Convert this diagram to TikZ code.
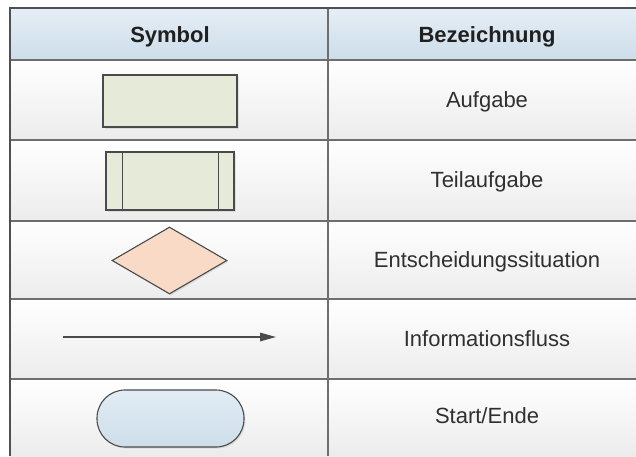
\documentclass[tikz,border=0pt]{standalone}
\usepackage{fontspec}
\setmainfont{Liberation Sans}
\usetikzlibrary{arrows.meta,shapes.geometric,shadows}

\definecolor{gridline}{HTML}{6E6E6E}
\definecolor{frameline}{HTML}{505050}
\definecolor{headtop}{HTML}{E6EEF5}
\definecolor{headbot}{HTML}{CCDDEA}
\definecolor{rowbot}{HTML}{ECECEC}
\definecolor{shapeline}{HTML}{4A4A4A}
\definecolor{taskfill}{HTML}{E6EAD9}
\definecolor{decfill}{HTML}{F9DAC6}
\definecolor{termtop}{HTML}{E2ECF4}
\definecolor{termbot}{HTML}{CDDEEA}
\definecolor{headtext}{HTML}{202020}
\definecolor{celltext}{HTML}{303030}

\tikzset{
  grid/.style={draw=gridline, line width=1.6pt},
  symshape/.style={draw=shapeline, line width=1.1pt, inner sep=0pt,
    drop shadow={opacity=0.18, shadow xshift=1.5pt, shadow yshift=-1.5pt}},
  taskbox/.style={symshape, rectangle, fill=taskfill},
  decbox/.style={symshape, diamond, fill=decfill},
  termbox/.style={symshape, rectangle, rounded corners=28pt,
    top color=termtop, bottom color=termbot},
  headlabel/.style={anchor=base, text=headtext,
    font=\fontsize{22}{26}\selectfont\bfseries},
  celllabel/.style={anchor=base, text=celltext,
    font=\fontsize{22}{26}\selectfont},
  flow/.style={draw=shapeline, line width=1.4pt,
    -{Triangle[length=16pt,width=8.5pt]}}
}

\begin{document}
\begin{tikzpicture}[x=1pt,y=-1pt]
  \useasboundingbox (0,0) rectangle (636,456);
  \fill[white] (0,0) rectangle (636,456);

  % header band and row bands
  \shade[top color=headtop, bottom color=headbot] (10,8) rectangle (636,60);
  \foreach \ya/\yb in {60/140,140/221,221/299,299/379,379/456}
    \shade[top color=white, bottom color=rowbot] (10,\ya) rectangle (636,\yb);

  % table rules
  \foreach \yy in {60,140,221,299,379}
    \draw[grid] (10,\yy) -- (636,\yy);
  \draw[grid] (328,8) -- (328,456);
  \draw[grid, draw=frameline] (10,456) -- (10,8) -- (636,8);

  % header
  \node[headlabel] (hsym) at (170,42) {Symbol};
  \node[headlabel] (hbez) at (487,42) {Bezeichnung};

  % Aufgabe
  \node[taskbox, minimum width=134pt, minimum height=52pt] (aufgabe) at (170,101) {};
  \node[celllabel] (laufgabe) at (487,107) {Aufgabe};

  % Teilaufgabe
  \node[taskbox, minimum width=128pt, minimum height=58pt] (teil) at (170,181) {};
  \draw[draw=shapeline, line width=1.1pt]
    ([xshift=17pt]teil.north west) -- ([xshift=17pt]teil.south west);
  \draw[draw=shapeline, line width=1.1pt]
    ([xshift=-16pt]teil.north east) -- ([xshift=-16pt]teil.south east);
  \node[celllabel] (lteil) at (487,187) {Teilaufgabe};

  % Entscheidungssituation
  \node[decbox, minimum width=115pt, minimum height=67pt] (entsch) at (169.5,260.5) {};
  \node[celllabel] (lentsch) at (487,267) {Entscheidungssituation};

  % Informationsfluss
  \coordinate (flowstart) at (63,337);
  \coordinate (flowend) at (276,337);
  \draw[flow] (flowstart) -- (flowend);
  \node[celllabel] (lflow) at (487,346) {Informationsfluss};

  % Start/Ende
  \node[termbox, minimum width=147pt, minimum height=57pt] (term) at (170.5,418.5) {};
  \node[celllabel] (lterm) at (487,423) {Start/Ende};
\end{tikzpicture}
\end{document}
